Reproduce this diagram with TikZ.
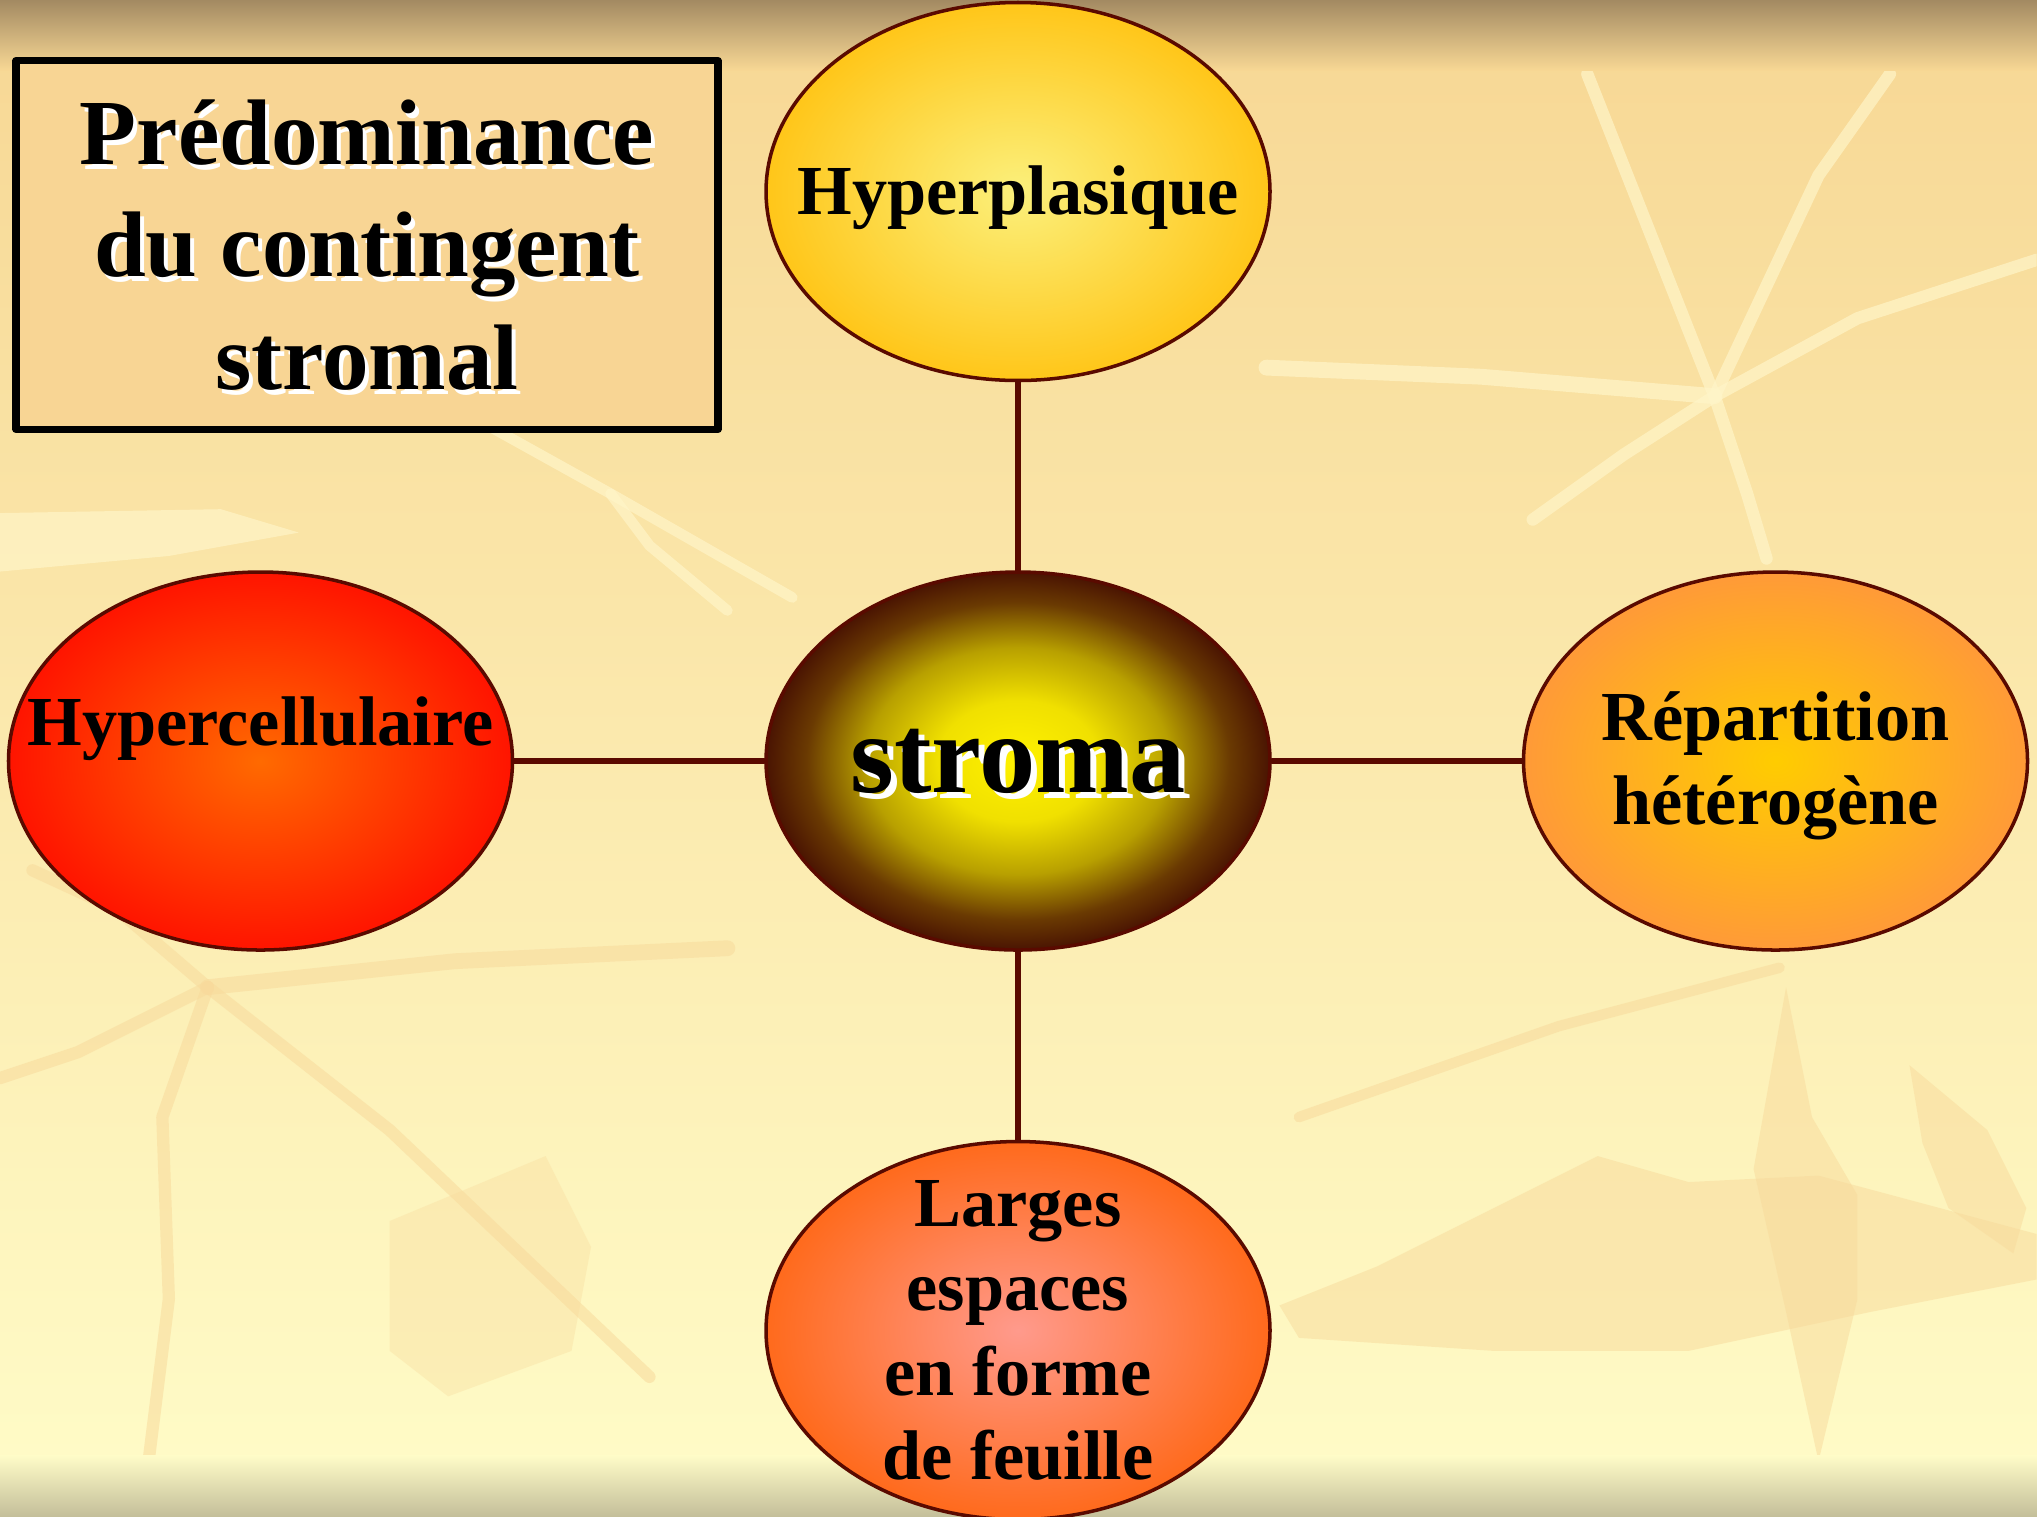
\documentclass[tikz,border=0pt]{standalone}
\usepackage{fontspec}
\setmainfont{Liberation Serif}
\usetikzlibrary{shapes.geometric,positioning}
\definecolor{maroon}{HTML}{5A0A00}
\definecolor{bgtan}{HTML}{F7D794}
\definecolor{bgmid}{HTML}{FCECB6}
\definecolor{bgcream}{HTML}{FFFCC8}
\definecolor{bgtop}{HTML}{A38A62}
\definecolor{bgfoot}{HTML}{C4BF9A}
\definecolor{vein}{HTML}{FFF5C8}
\definecolor{leafc}{HTML}{F8DA9C}
\definecolor{boxfill}{HTML}{F8D594}
\definecolor{stromain}{HTML}{FFF200}
\definecolor{stromahi}{HTML}{F0E000}
\definecolor{stromamid}{HTML}{B8A000}
\definecolor{stromadk}{HTML}{6A3A02}
\definecolor{stromaout}{HTML}{4A1402}
\pgfdeclareradialshading{stromashade}{\pgfpoint{0bp}{0bp}}{color(0bp)=(stromain); color(8bp)=(stromahi); color(15bp)=(stromamid); color(21bp)=(stromadk); color(25bp)=(stromaout); color(50bp)=(stromaout)}
\tikzset{
  every picture/.style={line join=round, line cap=round},
  bubble/.style={ellipse, draw=maroon, line width=1pt, minimum width=5.04cm, minimum height=3.78cm, inner sep=0pt},
  lbl/.style={font=\fontsize{20}{24}\selectfont\bfseries, align=center, inner sep=0pt},
  ttltxt/.style={font=\fontsize{26.5}{32}\selectfont\bfseries, align=center, inner sep=0pt},
  stromatxt/.style={font=\fontsize{32}{36}\selectfont\bfseries, inner sep=0pt},
  link/.style={draw=maroon, line width=1.5pt},
  lightvein/.style={draw=vein, line width=3.5pt, opacity=0.7},
  darkvein/.style={draw=leafc, line width=3.5pt, opacity=0.55},
  leaf/.style={fill=leafc, opacity=0.5},
}
\begin{document}
\begin{tikzpicture}[x=0.1mm, y=-0.1mm]
\useasboundingbox (0,0) rectangle (2037,1516);
\fill[top color=bgtan, middle color=bgmid, bottom color=bgcream] (0,0) rectangle (2037,1516);
\begin{scope}[x=0.1299mm, y=-0.1299mm]
\clip (0,0) rectangle (1568,1167);
\draw[lightvein] (1222,57) -- (1320,305);
\draw[lightvein] (1455,57) -- (1400,135) -- (1320,305);
\draw[lightvein] (1320,305) -- (1430,245) -- (1568,200);
\draw[lightvein, line width=4.5pt] (1320,305) -- (1140,290) -- (975,283);
\draw[lightvein] (1320,305) -- (1250,350) -- (1180,400);
\draw[lightvein] (1320,305) -- (1345,380) -- (1360,430);
\draw[lightvein, line width=3pt] (380,330) -- (470,380) -- (610,460);
\draw[lightvein, line width=3pt] (470,380) -- (500,420) -- (560,470);
\fill[vein, opacity=0.7] (0,395) -- (170,392) -- (230,410) -- (130,428) -- (0,440) -- cycle;
\draw[darkvein, line width=4.5pt] (160,760) -- (350,740) -- (560,730);
\draw[darkvein] (160,760) -- (300,870) -- (500,1060);
\draw[darkvein] (160,760) -- (125,860) -- (130,1000) -- (110,1160);
\draw[darkvein] (160,760) -- (90,700) -- (25,670);
\draw[darkvein] (160,760) -- (60,810) -- (0,830);
\fill[leaf, opacity=0.35] (300,940) -- (420,890) -- (455,960) -- (440,1040) -- (345,1075) -- (300,1040) -- cycle;
\fill[leaf] (985,1005) -- (1060,975) -- (1140,935) -- (1230,890) -- (1300,910) -- (1400,905) -- (1568,950) -- (1568,985) -- (1440,1010) -- (1300,1040) -- (1150,1040) -- (1000,1030) -- cycle;
\fill[leaf] (1375,760) -- (1395,860) -- (1430,920) -- (1430,1000) -- (1400,1125) -- (1375,1010) -- (1350,900) -- cycle;
\fill[leaf] (1470,820) -- (1530,870) -- (1560,930) -- (1550,965) -- (1500,930) -- (1480,880) -- cycle;
\draw[darkvein, line width=3pt] (1000,860) -- (1200,790) -- (1370,745);
\end{scope}
\fill[top color=bgtop, bottom color=bgtan] (0,0) rectangle (2037,70);
\fill[top color=bgcream, bottom color=bgfoot] (0,1455) rectangle (2037,1516);

\node[draw=black, line width=2pt, fill=boxfill, minimum width=7.02cm, minimum height=3.69cm] (ttl) at (367,245) {};
\node[ttltxt, white] (ttlshd) at ([xshift=0.04cm, yshift=-0.05cm]ttl.center) {Prédominance\\du contingent\\stromal};
\node[ttltxt] (ttllbl) at (ttl) {Prédominance\\du contingent\\stromal};

\node[bubble, shading=stromashade] (stroma) at (1018,761) {};
\node[bubble, inner color={rgb,255:red,251;green,240;blue,124}, outer color={rgb,255:red,255;green,198;blue,25}, above=1.88cm of stroma] (hyp) {};
\node[bubble, inner color={rgb,255:red,255;green,106;blue,0}, outer color={rgb,255:red,255;green,20;blue,0}, left=2.5cm of stroma] (cell) {};
\node[bubble, inner color={rgb,255:red,255;green,204;blue,0}, outer color={rgb,255:red,255;green,154;blue,56}, right=2.5cm of stroma] (rep) {};
\node[bubble, inner color={rgb,255:red,255;green,154;blue,140}, outer color={rgb,255:red,255;green,106;blue,28}, below=1.88cm of stroma] (larg) {};

\draw[link] (stroma) -- (hyp);
\draw[link] (stroma) -- (cell);
\draw[link] (stroma) -- (rep);
\draw[link] (stroma) -- (larg);

\node[stromatxt, white] (stromashd) at ([xshift=0.06cm, yshift=-0.06cm]stroma.center) {stroma};
\node[stromatxt] (stromalbl) at (stroma) {stroma};
\node[lbl] (hyplbl) at ([yshift=-0.06cm]hyp.center) {Hyperplasique};
\node[lbl] (celllbl) at ([yshift=0.32cm]cell.center) {Hypercellulaire};
\node[lbl] (replbl) at ([yshift=-0.05cm]rep.center) {Répartition\\ hétérogène};
\node[lbl] (larglbl) at (larg) {Larges\\espaces\\en forme\\de feuille};
\end{tikzpicture}
\end{document}
